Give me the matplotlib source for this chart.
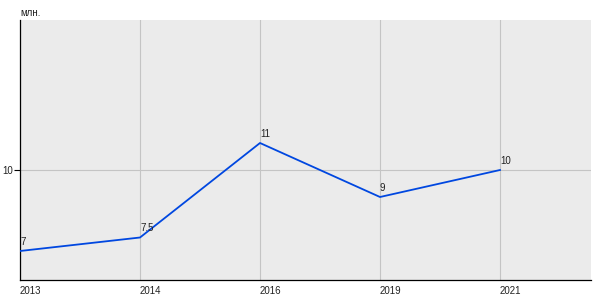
import matplotlib.pyplot as plt

years = ['2013', '2014', '2016', '2019', '2021']
values = [7, 7.5, 11, 9, 10]
value_labels = ['7', '7.5', '11', '9', '10']

plt.rcParams['font.family'] = ['Liberation Sans', 'DejaVu Sans']

fig = plt.figure(figsize=(6, 3), dpi=100)
ax = fig.add_axes([20 / 600, 20 / 300, 571 / 600, 260 / 300])
ax.set_facecolor('#ebebeb')

x = list(range(len(years)))
ax.plot(x, values, color='#0047e0', linewidth=1.3, zorder=3)

for xi, v, lab in zip(x, values, value_labels):
    ax.annotate(lab, (xi, v), xytext=(0, 3), textcoords='offset points',
                ha='left', va='bottom', fontsize=7, color='#222222')

ax.set_xlim(0, 571 / 120)
ax.set_ylim(10 - 110 / 27, 10 + 150 / 27)
ax.set_xticks(x)
ax.set_xticklabels(years, ha='left', fontsize=7, color='#222222')
ax.set_yticks([10])
ax.set_yticklabels(['10'], fontsize=7, color='#222222')
ax.tick_params(axis='x', length=0, pad=4)
ax.tick_params(axis='y', length=4, pad=1, width=0.8)
ax.grid(True, color='#c4c4c4', linewidth=0.8)
ax.set_axisbelow(True)

for side in ['top', 'right']:
    ax.spines[side].set_visible(False)
ax.spines['left'].set_linewidth(0.9)
ax.spines['bottom'].set_linewidth(0.9)

fig.text(20 / 600, 1 - 13 / 300, 'млн.', fontsize=7, ha='left', va='center', color='#222222')

fig.savefig('out.png', dpi=100)
